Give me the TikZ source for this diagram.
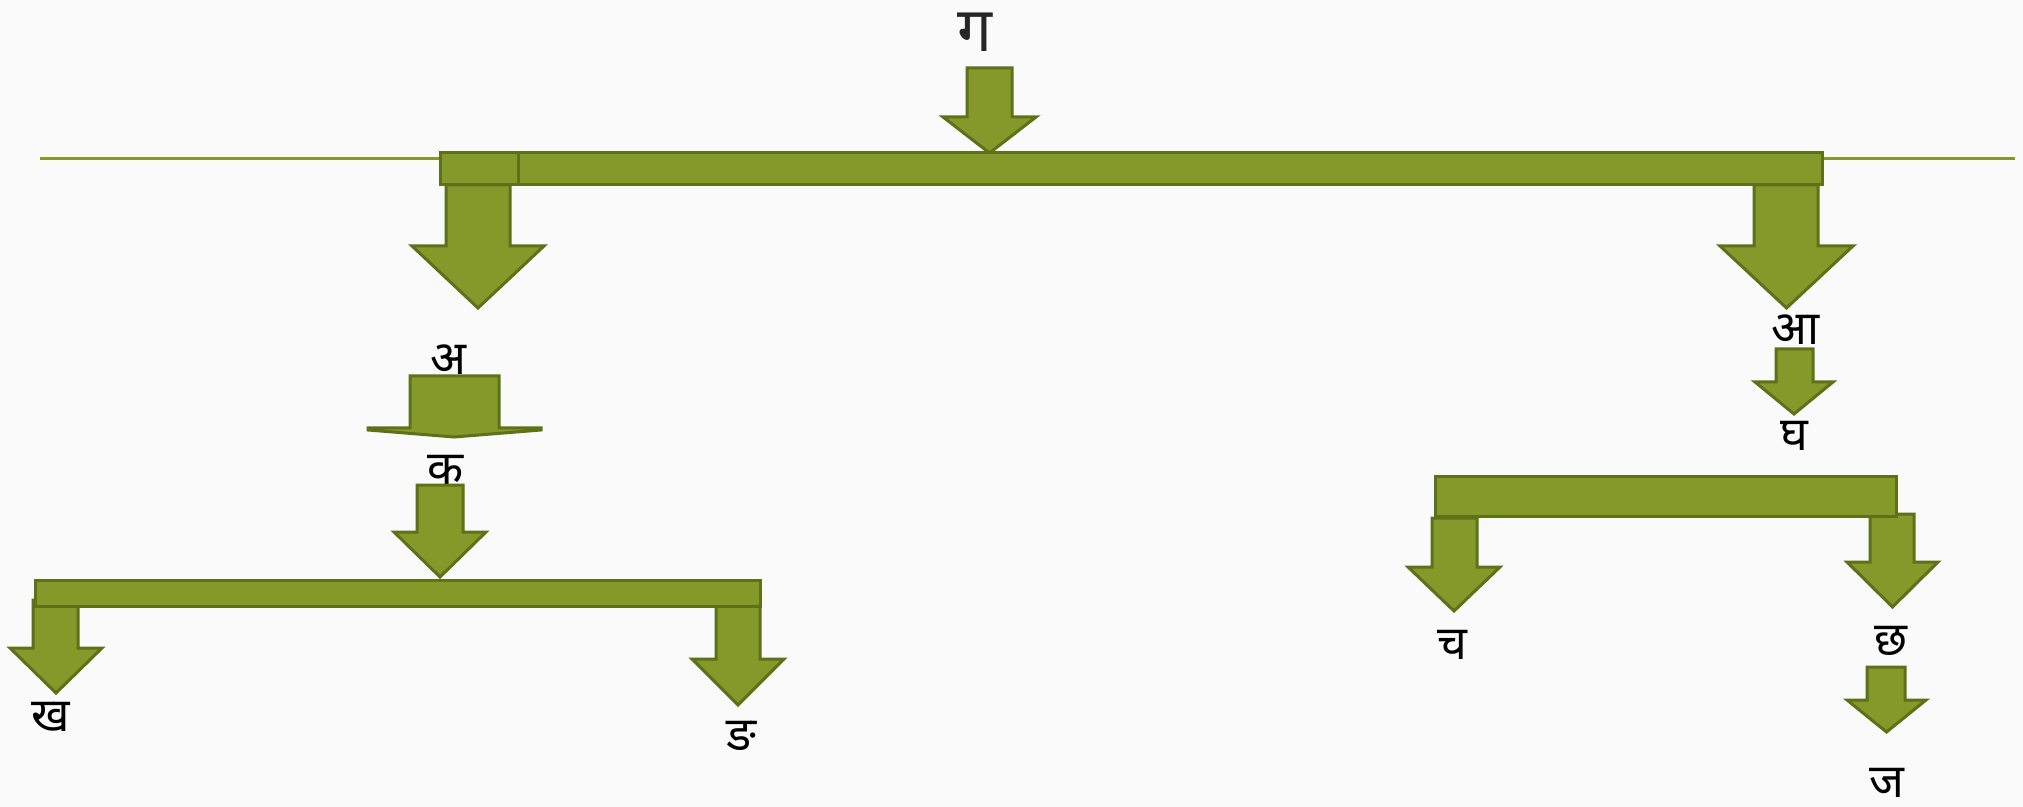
\documentclass[tikz,border=0pt]{standalone}
\usepackage{fontspec}
\newfontfamily\devfont[Script=Devanagari]{Noto Sans}
\definecolor{olivefill}{HTML}{85992B}
\definecolor{olivedraw}{HTML}{5E7018}
\definecolor{bgcol}{HTML}{FAFAFA}
\definecolor{inkcol}{HTML}{262626}

\tikzset{
  block/.style={fill=olivefill, draw=olivedraw, line width=1.5pt, line join=miter},
  rule/.style={draw=olivefill, line width=1.5pt},
  lbl/.style={font=\devfont\fontsize{23.5}{28}\selectfont, text=black, anchor=base, inner sep=0pt},
  toplbl/.style={lbl, font=\devfont\fontsize{31}{36}\selectfont, text=inkcol}
}

% block arrow pointing down:
% shaft left, shaft right, shaft top, head y, head left, head right, tip y
\newcommand\dnarrow[7]{%
  \draw[block] (#1,#3) -- (#2,#3) -- (#2,#4) -- (#6,#4) -- ({(#5+#6)/2},#7)
    -- (#5,#4) -- (#1,#4) -- cycle;}

\begin{document}
\begin{tikzpicture}[x=0.5pt, y=-0.5pt]
  \fill[bgcol] (0,0) rectangle (2023,807);
  \useasboundingbox (0,0) rectangle (2023,807);

  % ---- top level ----
  \node[toplbl] (ga) at (975,52) {ग};
  \dnarrow{967}{1012}{68}{117}{943}{1036}{153}

  \coordinate (ruleL) at (40,159);
  \coordinate (ruleR) at (2015,159);
  \coordinate (barL) at (440,159);
  \coordinate (barR) at (1822,159);
  \draw[rule] (ruleL) -- (barL);
  \draw[rule] (barR) -- (ruleR);

  \dnarrow{446}{510}{185}{246}{412}{544}{308}
  \dnarrow{1754}{1818}{185}{246}{1720}{1853}{308}

  \path[block] (518,153) rectangle (1822,185);
  \path[block] (440,153) rectangle (518,185);

  % ---- left branch ----
  \node[lbl] (a) at (448,375) {अ};
  \draw[block] (410,376) -- (499,376) -- (499,428) -- (541,428) -- (541,430)
    -- (454,437) -- (368,430) -- (368,428) -- (410,428) -- cycle;
  \node[lbl] (ka) at (446,484) {क};
  \dnarrow{417}{463}{485}{532}{394}{486}{577}

  \dnarrow{33}{78}{600}{648}{10}{102}{693}
  \dnarrow{716}{760}{606}{659}{692}{784}{705}
  \path[block] (35,580) rectangle (760,606);
  \node[lbl] (kha) at (51,731) {ख};
  \node[lbl] (nga) at (741,750) {ङ};

  % ---- right branch ----
  \node[lbl] (aa) at (1795,345) {आ};
  \dnarrow{1776}{1813}{349}{382}{1755}{1833}{414}
  \node[lbl] (gha) at (1794,451) {घ};

  \dnarrow{1432}{1477}{518}{567}{1408}{1500}{611}
  \dnarrow{1870}{1914}{514}{562}{1847}{1938}{607}
  \path[block] (1435,476) rectangle (1896,516);
  \node[lbl] (ca) at (1452,659) {च};
  \node[lbl] (cha) at (1891,655) {छ};

  \dnarrow{1867}{1905}{667}{700}{1847}{1926}{732}
  \node[lbl] (ja) at (1887,797) {ज};
\end{tikzpicture}
\end{document}
